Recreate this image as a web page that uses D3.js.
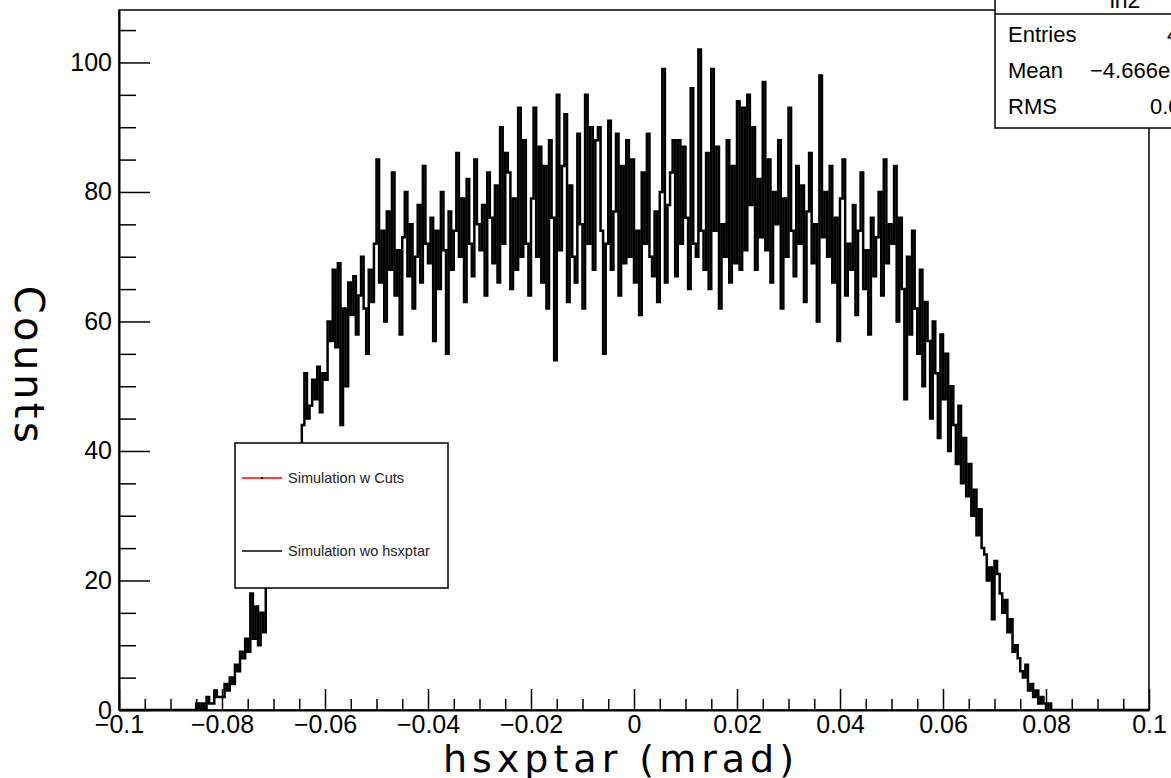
<!DOCTYPE html>
<html>
<head>
<meta charset="utf-8">
<script src="https://cdn.jsdelivr.net/npm/d3@7"></script>
<style>
  body { margin: 0; background: #fff; }
  svg { display: block; }
</style>
</head>
<body>
<script>
// Histogram: 400 bins over [-0.1, 0.1], counts
const histLow = -0.1;
const histHigh = 0.1;
const counts = [
  0, 0, 0, 0, 0, 0, 0, 0, 0, 0,
  0, 0, 0, 0, 0, 0, 0, 0, 0, 0,
  0, 0, 0, 0, 0, 0, 0, 0, 0, 0,
  1, 0, 1, 0, 2, 1, 1, 3, 2, 2,
  2, 4, 3, 5, 4, 7, 6, 9, 8, 11,
  9, 18, 11, 16, 10, 15, 12, 20, 19, 24,
  22, 26, 25, 30, 29, 33, 35, 32, 38, 40,
  38, 44, 52, 45, 47, 51, 48, 53, 46, 52,
  51, 60, 57, 68, 56, 69, 44, 62, 50, 66,
  61, 67, 58, 64, 70, 62, 55, 68, 63, 72,
  85, 66, 74, 60, 77, 68, 83, 64, 71, 58,
  73, 80, 67, 75, 62, 70, 78, 66, 84, 72,
  69, 76, 57, 74, 65, 80, 71, 55, 77, 68,
  74, 86, 70, 79, 63, 82, 72, 67, 85, 75,
  71, 78, 64, 83, 76, 69, 81, 66, 90, 72,
  86, 83, 65, 79, 68, 93, 70, 88, 72, 64,
  79, 93, 70, 87, 66, 84, 62, 88, 76, 54,
  95, 71, 84, 92, 63, 81, 70, 66, 89, 75,
  62, 95, 72, 90, 68, 88, 90, 74, 55, 72,
  91, 68, 77, 89, 64, 84, 69, 88, 70, 85,
  66, 74, 61, 83, 72, 89, 70, 67, 77, 63,
  80, 99, 66, 78, 83, 88, 67, 88, 72, 87,
  76, 65, 96, 72, 70, 102, 74, 68, 86, 65,
  99, 74, 87, 62, 75, 70, 88, 66, 84, 69,
  94, 68, 93, 71, 95, 78, 90, 68, 82, 73,
  97, 71, 85, 66, 80, 75, 88, 62, 79, 70,
  93, 74, 67, 84, 72, 81, 63, 77, 86, 69,
  75, 60, 98, 73, 80, 70, 84, 66, 76, 57,
  79, 85, 64, 72, 68, 78, 61, 74, 83, 65,
  71, 58, 76, 67, 73, 80, 64, 85, 69, 75,
  72, 84, 60, 76, 65, 48, 70, 58, 74, 62,
  55, 68, 50, 63, 57, 45, 60, 52, 42, 58,
  48, 55, 40, 50, 44, 38, 47, 35, 42, 33,
  38, 30, 34, 27, 31, 25, 24, 20, 22, 14,
  23, 21, 18, 15, 17, 12, 14, 9, 10, 8,
  6, 5, 7, 3, 4, 2, 3, 1, 2, 1,
  0, 1, 0, 0, 0, 0, 0, 0, 0, 0,
  0, 0, 0, 0, 0, 0, 0, 0, 0, 0,
  0, 0, 0, 0, 0, 0, 0, 0, 0, 0,
  0, 0, 0, 0, 0, 0, 0, 0, 0, 0
];
const binWidth = (histHigh - histLow) / counts.length;

// Axes
const xTicks = [-0.1, -0.08, -0.06, -0.04, -0.02, 0, 0.02, 0.04, 0.06, 0.08, 0.1];
const xTickLabels = ['\u22120.1', '\u22120.08', '\u22120.06', '\u22120.04', '\u22120.02', '0',
  '0.02', '0.04', '0.06', '0.08', '0.1'];
const yTicks = [0, 20, 40, 60, 80, 100];
const yMax = 108.1;
const xTitle = 'hsxptar (mrad)';
const yTitle = 'Counts';

// Legend and stats box
const legendLabels = ['Simulation w Cuts', 'Simulation wo hsxptar'];
const legendColors = ['#ff0000', '#000000'];
const statTitle = 'lh2';
const statNames = ['Entries', 'Mean', 'RMS'];
const statValues = ['41735', '\u22124.666e\u221205', '0.03312'];

// Width and height
const w = 1171;
const h = 778;
const plotLeft = 119;
const plotRight = 1149;
const plotTop = 10;
const plotBottom = 710;

const xScale = d3.scaleLinear().domain([histLow, histHigh]).range([plotLeft, plotRight]);
const yScale = d3.scaleLinear().domain([0, yMax]).range([plotBottom, plotTop]);

const svg = d3
  .select('body')
  .append('svg')
  .attr('width', w)
  .attr('height', h);

svg
  .append('clipPath')
  .attr('id', 'plot-area')
  .append('rect')
  .attr('x', plotLeft)
  .attr('y', plotTop)
  .attr('width', plotRight - plotLeft)
  .attr('height', plotBottom - plotTop);

// Step outline of the histogram
const points = counts.map((c, i) => [histLow + i * binWidth, c]);
points.push([histHigh, counts[counts.length - 1]]);

const line = d3
  .line()
  .x(d => xScale(d[0]))
  .y(d => yScale(d[1]))
  .curve(d3.curveStepAfter);

svg
  .append('path')
  .datum(points)
  .attr('clip-path', 'url(#plot-area)')
  .attr('fill', 'none')
  .attr('stroke', '#000')
  .attr('stroke-width', 2.5)
  .attr('d', line);

// Frame
svg
  .append('rect')
  .attr('x', plotLeft)
  .attr('y', plotTop)
  .attr('width', plotRight - plotLeft)
  .attr('height', plotBottom - plotTop)
  .attr('fill', 'none')
  .attr('stroke', '#000')
  .attr('stroke-width', 1.5);

const labelFont = '"Liberation Sans", Arial, sans-serif';

// Y axis
const yMinor = d3.range(0, yMax, 5).filter(v => v % 20 !== 0);
svg
  .append('g')
  .attr('transform', 'translate(' + plotLeft + ',0)')
  .call(d3.axisLeft(yScale).tickValues(yMinor).tickSize(-17).tickSizeOuter(0).tickFormat(''))
  .call(g => g.select('.domain').remove());

svg
  .append('g')
  .attr('class', 'y axis')
  .attr('transform', 'translate(' + plotLeft + ',0)')
  .call(d3.axisLeft(yScale).tickValues(yTicks).tickSize(-31).tickSizeOuter(0).tickPadding(7))
  .call(g => g.select('.domain').attr('stroke-width', 2));

// X axis
const xMinor = d3.range(-20, 21).map(k => k * 0.005).filter(v => Math.abs(v * 50 - Math.round(v * 50)) > 1e-6);
svg
  .append('g')
  .attr('transform', 'translate(0,' + plotBottom + ')')
  .call(d3.axisBottom(xScale).tickValues(xMinor).tickSize(-11).tickSizeOuter(0).tickFormat(''))
  .call(g => g.select('.domain').remove());

svg
  .append('g')
  .attr('class', 'x axis')
  .attr('transform', 'translate(0,' + plotBottom + ')')
  .call(
    d3
      .axisBottom(xScale)
      .tickValues(xTicks)
      .tickSize(-21)
      .tickSizeOuter(0)
      .tickPadding(5)
      .tickFormat((d, i) => xTickLabels[i])
  )
  .call(g => g.select('.domain').attr('stroke-width', 2));

svg.selectAll('.tick line').attr('stroke', '#000').attr('stroke-width', 1.5);
svg
  .selectAll('.axis text')
  .attr('fill', '#000')
  .style('font-family', labelFont)
  .style('font-size', '25px');

// Axis titles
svg
  .append('text')
  .attr('x', 621)
  .attr('y', 772)
  .attr('text-anchor', 'middle')
  .style('font-family', '"DejaVu Sans", sans-serif')
  .style('font-size', '38px')
  .style('letter-spacing', '5px')
  .text(xTitle);

svg
  .append('text')
  .attr('transform', 'translate(15,366) rotate(90)')
  .attr('text-anchor', 'middle')
  .style('font-family', '"DejaVu Sans", sans-serif')
  .style('font-size', '40px')
  .style('letter-spacing', '3.5px')
  .text(yTitle);

// Legend
const legend = svg.append('g').attr('class', 'legend');
legend
  .append('rect')
  .attr('x', 235)
  .attr('y', 443)
  .attr('width', 213)
  .attr('height', 145)
  .attr('fill', '#fff')
  .attr('stroke', '#000')
  .attr('stroke-width', 1.5);

const entryY = [478, 551];
legendLabels.forEach((label, i) => {
  legend
    .append('line')
    .attr('x1', 242)
    .attr('x2', 282)
    .attr('y1', entryY[i])
    .attr('y2', entryY[i])
    .attr('stroke', legendColors[i])
    .attr('stroke-width', 1.5);
  legend
    .append('text')
    .attr('x', 288)
    .attr('y', entryY[i])
    .attr('dy', '0.35em')
    .attr('fill', '#222')
    .style('font-family', labelFont)
    .style('font-size', '14.5px')
    .text(label);
});
legend
  .append('circle')
  .attr('cx', 262)
  .attr('cy', entryY[0])
  .attr('r', 1)
  .attr('fill', '#000');

// Stats box (runs off the top and right of the canvas)
const stats = svg.append('g').attr('class', 'stats');
stats
  .append('rect')
  .attr('x', 995)
  .attr('y', -24)
  .attr('width', 260)
  .attr('height', 152)
  .attr('fill', '#fff')
  .attr('stroke', '#000')
  .attr('stroke-width', 1.5);
stats
  .append('line')
  .attr('x1', 995)
  .attr('x2', 1255)
  .attr('y1', 14)
  .attr('y2', 14)
  .attr('stroke', '#000')
  .attr('stroke-width', 1.5);
stats
  .append('text')
  .attr('x', 1125)
  .attr('y', 8)
  .attr('text-anchor', 'middle')
  .style('font-family', labelFont)
  .style('font-size', '23px')
  .text(statTitle);

const rowY = [42, 78, 114];
const valueX = [1167, 1090, 1150];
statNames.forEach((name, i) => {
  stats
    .append('text')
    .attr('x', 1008)
    .attr('y', rowY[i])
    .style('font-family', labelFont)
    .style('font-size', '22px')
    .text(name);
  stats
    .append('text')
    .attr('x', valueX[i])
    .attr('y', rowY[i])
    .style('font-family', labelFont)
    .style('font-size', '22px')
    .text(statValues[i]);
});
</script>
</body>
</html>
